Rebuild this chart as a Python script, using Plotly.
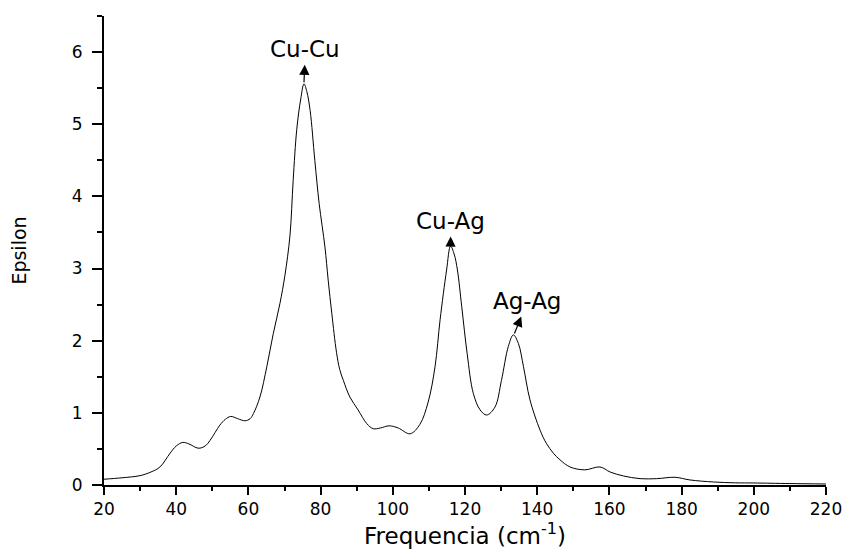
import plotly.graph_objects as go

# Spectrum values
freq = [20, 25, 30, 33, 35.5, 38.3, 40, 41.8, 43.5, 46.1, 48, 49.4, 52.1, 53.6, 55.1, 57, 59.1,
        60.5, 61.4, 63.2, 65.1, 66.9, 68.75, 70.1, 71.5, 72.4, 73.4, 74.5, 75.4, 76.2, 77.1,
        78.4, 79.6, 81.2, 82.1, 83.1, 84.4, 85.3, 86.3, 88.1, 90.4, 92.8, 94.6, 96.5, 99.0,
        101.5, 104.8, 107.5, 109.8, 111.7, 113.1, 114.9, 116.0, 117.0, 117.9, 119.1,
        120.6, 122.3, 124.2, 126.0, 128.3, 130.1, 132.0, 133.4, 134.8, 136.2, 138.0,
        140.8, 142.5, 144.5, 146.3, 149.1, 153.2, 157.4, 160.2, 163.9, 168.5, 173.1,
        178.2, 182.3, 188.8, 195, 200, 210, 220]
epsilon = [0.08, 0.10, 0.13, 0.18, 0.25, 0.44, 0.54, 0.59, 0.57, 0.51, 0.54, 0.62, 0.83, 0.91, 0.95,
           0.92, 0.89, 0.92, 0.99, 1.22, 1.64, 2.10, 2.52, 2.90, 3.45, 4.22, 4.93, 5.35, 5.56,
           5.45, 5.19, 4.50, 3.90, 3.30, 2.84, 2.38, 1.84, 1.60, 1.45, 1.22, 1.04, 0.85, 0.78,
           0.79, 0.82, 0.79, 0.71, 0.84, 1.15, 1.64, 2.29, 2.98, 3.31, 3.20, 2.98, 2.47,
           1.82, 1.27, 1.04, 0.97, 1.08, 1.45, 1.92, 2.08, 1.96, 1.64, 1.18, 0.76, 0.58,
           0.44, 0.35, 0.25, 0.21, 0.25, 0.18, 0.125, 0.088, 0.088, 0.107, 0.07, 0.042,
           0.03, 0.028, 0.02, 0.014]

x_ticks = [20, 40, 60, 80, 100, 120, 140, 160, 180, 200, 220]
y_ticks = [0, 1, 2, 3, 4, 5, 6]

# Peak labels: text, label position, and the peak each arrow starts from
peak_labels = ["Cu-Cu", "Cu-Ag", "Ag-Ag"]
label_x = [75.8, 116.1, 137.3]
label_y = [6.04, 3.66, 2.55]
peak_x = [75.4, 116.0, 133.7]
peak_y = [5.58, 3.33, 2.10]

FONT = "DejaVu Sans, Liberation Sans, Arial, sans-serif"

fig = go.Figure()
fig.add_trace(go.Scatter(x=freq, y=epsilon, mode="lines",
                         line=dict(color="black", width=1, shape="spline", smoothing=1.0),
                         hoverinfo="skip", showlegend=False))

for t, lx, ly, px, py in zip(peak_labels, label_x, label_y, peak_x, peak_y):
    fig.add_annotation(x=px, y=py, xref="x", yref="y", ax=lx, ay=ly,
                       axref="x", ayref="y", text=t, showarrow=True,
                       arrowside="start", arrowhead=2, arrowsize=1.7,
                       startarrowhead=2, startarrowsize=1.7, arrowwidth=1.2,
                       arrowcolor="black", standoff=0, startstandoff=1,
                       font=dict(family=FONT, size=23, color="black"))

fig.update_xaxes(range=[20, 220], tickvals=x_ticks, ticktext=[str(v) for v in x_ticks],
                 showline=True, linecolor="black", linewidth=2, showgrid=False,
                 zeroline=False, ticks="outside", ticklen=8, tickwidth=2, tickcolor="black",
                 minor=dict(dtick=10, tick0=20, ticks="outside", ticklen=4, tickwidth=2,
                            tickcolor="black", showgrid=False),
                 tickfont=dict(family=FONT, size=17, color="black"),
                 title=dict(text="Frequencia (cm<sup>-1</sup>)", standoff=9,
                            font=dict(family=FONT, size=23, color="black")))
fig.update_yaxes(range=[0, 6.5], tickvals=y_ticks, ticktext=[str(v) for v in y_ticks],
                 showline=True, linecolor="black", linewidth=2, showgrid=False,
                 zeroline=False, ticks="outside", ticklen=10, tickwidth=2, tickcolor="black",
                 ticklabelstandoff=6,
                 minor=dict(dtick=0.5, tick0=0, ticks="outside", ticklen=5, tickwidth=2,
                            tickcolor="black", showgrid=False),
                 tickfont=dict(family=FONT, size=17, color="black"),
                 title=dict(text="Epsilon", standoff=40,
                            font=dict(family=FONT, size=19, color="black")))

fig.update_layout(width=847, height=559, margin=dict(l=104, r=21, t=16, b=74, autoexpand=False),
                  plot_bgcolor="white", paper_bgcolor="white")

fig.write_html("out.html")
